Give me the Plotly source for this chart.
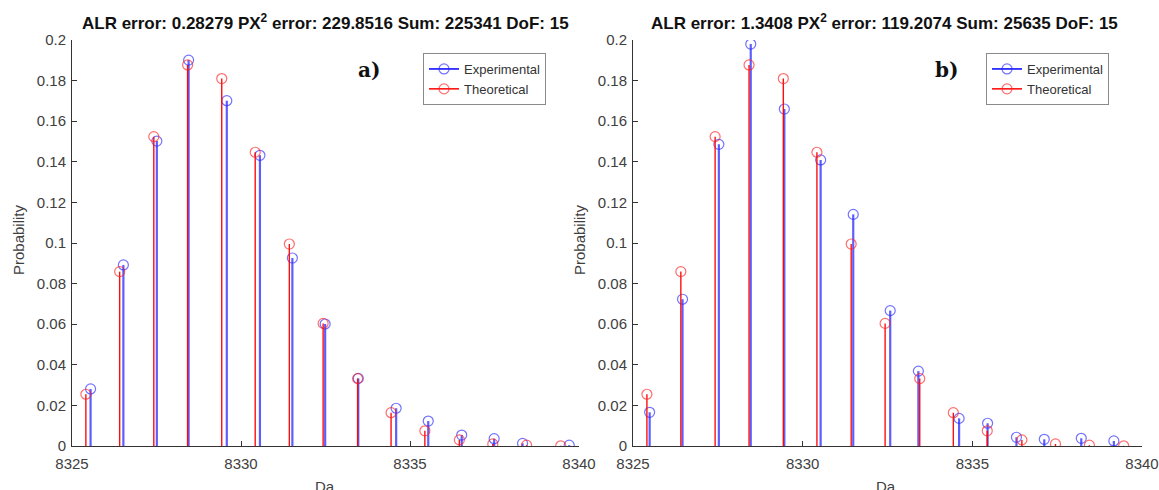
import plotly.graph_objects as go

# ---------------- data ----------------
theo_x = [8325.41, 8326.41, 8327.42, 8328.42, 8329.43, 8330.42, 8331.43, 8332.43,
          8333.45, 8334.44, 8335.44, 8336.46, 8337.45, 8338.45, 8339.46]
theo_y = [0.0255, 0.0859, 0.1524, 0.1877, 0.1810, 0.1447, 0.0995, 0.0604,
          0.0332, 0.0164, 0.0075, 0.0030, 0.0010, 0.0004, 0.0001]

exp_a_x = [8325.55, 8326.52, 8327.51, 8328.45, 8329.58, 8330.56, 8331.52, 8332.49,
           8333.47, 8334.59, 8335.54, 8336.53, 8337.49, 8338.33, 8339.71]
exp_a_y = [0.0281, 0.0892, 0.1502, 0.1901, 0.1701, 0.1432, 0.0926, 0.0601,
           0.0333, 0.0186, 0.0123, 0.0054, 0.0036, 0.0013, 0.0004]

exp_b_x = [8325.49, 8326.46, 8327.53, 8328.47, 8329.46, 8330.53, 8331.49, 8332.58,
           8333.41, 8334.61, 8335.45, 8336.30, 8337.12, 8338.21, 8339.17]
exp_b_y = [0.0166, 0.0723, 0.1486, 0.1980, 0.1660, 0.1409, 0.1141, 0.0667,
           0.0369, 0.0136, 0.0112, 0.0043, 0.0033, 0.0038, 0.0025]

x_ticks = [8325, 8330, 8335, 8340]
y_ticks = [0, 0.02, 0.04, 0.06, 0.08, 0.1, 0.12, 0.14, 0.16, 0.18, 0.2]
y_tick_text = ["0", "0.02", "0.04", "0.06", "0.08", "0.1", "0.12", "0.14", "0.16", "0.18", "0.2"]

titles = ["ALR error: 0.28279 PX<sup>2</sup> error: 229.8516 Sum: 225341 DoF: 15",
          "ALR error: 1.3408 PX<sup>2</sup> error: 119.2074 Sum: 25635 DoF: 15"]
panel_labels = ["a)", "b)"]
series_names = ["Experimental", "Theoretical"]

# ---------------- style ----------------
BLUE_LINE = "rgba(40,40,255,0.75)"
BLUE_MK = "rgba(40,40,255,0.65)"
RED_LINE = "rgba(255,0,0,0.95)"
RED_MK = "rgba(255,30,30,0.65)"
AX = "#333333"
TXT = "#404040"
FONT = "Liberation Sans, Arial, sans-serif"

W, H = 1159, 490
x_domains = [[72 / W, 579 / W], [633 / W, 1142 / W]]
y_domain = [(H - 446) / H, (H - 40) / H]


def stems(xs, ys):
    sx, sy = [], []
    for x, y in zip(xs, ys):
        sx += [x, x, None]
        sy += [0, y, None]
    return sx, sy


fig = go.Figure()

panels = [(exp_a_x, exp_a_y), (exp_b_x, exp_b_y)]
for i, (ex, ey) in enumerate(panels):
    xa = "x" if i == 0 else "x2"
    ya = "y" if i == 0 else "y2"
    leg = "legend" if i == 0 else "legend2"
    # experimental
    sx, sy = stems(ex, ey)
    fig.add_trace(go.Scatter(x=sx, y=sy, mode="lines", line=dict(color=BLUE_LINE, width=2.2),
                             xaxis=xa, yaxis=ya, showlegend=False, hoverinfo="skip"))
    fig.add_trace(go.Scatter(x=ex, y=ey, mode="markers",
                             marker=dict(symbol="circle-open", size=10, color=BLUE_MK,
                                         line=dict(width=1.2, color=BLUE_MK)),
                             xaxis=xa, yaxis=ya, showlegend=False))
    # theoretical
    sx, sy = stems(theo_x, theo_y)
    fig.add_trace(go.Scatter(x=sx, y=sy, mode="lines", line=dict(color=RED_LINE, width=1.4),
                             xaxis=xa, yaxis=ya, showlegend=False, hoverinfo="skip"))
    fig.add_trace(go.Scatter(x=theo_x, y=theo_y, mode="markers",
                             marker=dict(symbol="circle-open", size=10, color=RED_MK,
                                         line=dict(width=1.2, color=RED_MK)),
                             xaxis=xa, yaxis=ya, showlegend=False))
    # legend entries
    for name, lc, mc in [(series_names[0], "rgb(0,0,255)", BLUE_MK),
                         (series_names[1], "rgb(255,0,0)", RED_MK)]:
        fig.add_trace(go.Scatter(x=[None], y=[None], mode="lines+markers", name=name,
                                 line=dict(color=lc, width=1.5),
                                 marker=dict(symbol="circle-open", size=10, color=mc,
                                             line=dict(width=1.2, color=mc)),
                                 xaxis=xa, yaxis=ya, legend=leg))

axis_common = dict(showline=True, linecolor=AX, linewidth=1, ticks="inside", ticklen=5,
                   tickcolor=AX, showgrid=False, zeroline=False, mirror=False,
                   automargin=False,
                   tickfont=dict(family=FONT, size=15, color=TXT))

fig.update_layout(
    width=W, height=H, margin=dict(l=0, r=0, t=0, b=0, autoexpand=False),
    paper_bgcolor="white", plot_bgcolor="white",
    font=dict(family=FONT, color=TXT),
)

for i in range(2):
    sfx = "" if i == 0 else "2"
    fig.update_layout(**{
        "xaxis" + sfx: dict(domain=x_domains[i], range=[8325, 8340], tickvals=x_ticks,
                            ticktext=[str(t) for t in x_ticks], anchor="y" + sfx,
                            ticklabelstandoff=4, **axis_common),
        "yaxis" + sfx: dict(domain=y_domain, range=[0, 0.2], tickvals=y_ticks,
                            ticktext=y_tick_text, anchor="x" + sfx,
                            ticklabelstandoff=2, **axis_common),
    })

legend_style = dict(bgcolor="white", bordercolor="#8a8a8a", borderwidth=1,
                    font=dict(family=FONT, size=13, color="#333333"),
                    xanchor="left", yanchor="top", tracegroupgap=0,
                    itemwidth=30)
fig.update_layout(
    legend=dict(x=423 / W, y=(H - 53) / H, **legend_style),
    legend2=dict(x=986 / W, y=(H - 53) / H, **legend_style),
)

annotations = []
centers = [325.5, 884]
left_edges = [72, 633]
for i in range(2):
    annotations.append(dict(text="<b>" + titles[i] + "</b>", x=centers[i] / W, y=(H - 22) / H,
                            xref="paper", yref="paper", showarrow=False, xanchor="center",
                            yanchor="middle", font=dict(family=FONT, size=17, color="#111111")))
    annotations.append(dict(text="<b>" + panel_labels[i] + "</b>",
                            x=(left_edges[i] + (297 if i == 0 else 313)) / W, y=(H - 70) / H,
                            xref="paper", yref="paper", showarrow=False, xanchor="center",
                            yanchor="middle",
                            font=dict(family="DejaVu Serif, serif", size=20, color="#111111")))
    annotations.append(dict(text="Probability", x=(left_edges[i] - 54) / W, y=(H - 240) / H,
                            xref="paper", yref="paper", showarrow=False, textangle=-90,
                            xanchor="center", yanchor="middle",
                            font=dict(family=FONT, size=15, color=TXT)))
    annotations.append(dict(text="Da", x=(left_edges[i] + 253) / W, y=(H - 476) / H,
                            xref="paper", yref="paper", showarrow=False,
                            xanchor="center", yanchor="top",
                            font=dict(family=FONT, size=15, color=TXT)))
fig.update_layout(annotations=annotations)

fig.write_html("out.html")
